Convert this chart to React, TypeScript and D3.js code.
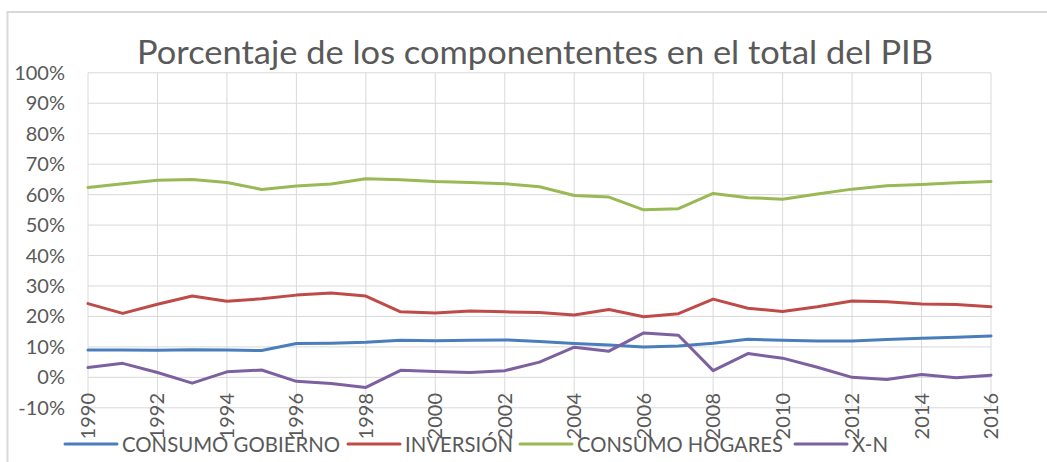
import React from "react";
import * as d3 from "d3";

const years = d3.range(1990, 2017);
const consumoGobierno = [9.0, 9.0, 8.9, 9.1, 9.0, 8.8, 11.1, 11.2, 11.5, 12.2, 12.0, 12.2, 12.3, 11.8, 11.1, 10.6, 10.0, 10.3, 11.2, 12.5, 12.2, 11.9, 11.9, 12.4, 12.8, 13.2, 13.6];
const inversion = [24.2, 21.0, 24.0, 26.7, 25.0, 25.8, 27.0, 27.7, 26.7, 21.5, 21.1, 21.8, 21.5, 21.3, 20.5, 22.3, 19.9, 20.9, 25.7, 22.7, 21.6, 23.2, 25.1, 24.8, 24.1, 23.9, 23.2];
const consumoHogares = [62.3, 63.6, 64.7, 65.0, 64.0, 61.7, 62.8, 63.5, 65.2, 64.9, 64.3, 64.0, 63.6, 62.6, 59.7, 59.2, 55.0, 55.4, 60.4, 59.0, 58.5, 60.2, 61.8, 62.9, 63.3, 63.9, 64.3];
const xn = [3.2, 4.6, 1.6, -1.9, 1.8, 2.4, -1.3, -2.0, -3.3, 2.3, 1.9, 1.6, 2.2, 5.0, 9.9, 8.6, 14.6, 13.8, 2.2, 7.8, 6.3, 3.3, 0.0, -0.7, 0.9, -0.1, 0.7];

const seriesNames = ["CONSUMO GOBIERNO", "INVERSIÓN", "CONSUMO HOGARES", "X-N"];
const seriesColors = ["#4A7EBB", "#BE4B48", "#98B954", "#7D60A0"];
const yTicks = d3.range(-10, 101, 10);
const xTicks = d3.range(1990, 2017, 2);
const title = "Porcentaje de los componententes en el total del PIB";

const FONT = "Lato, 'Open Sans', sans-serif";
const TEXT = "#595959";
const GRID = "#D9D9D9";

export default function App() {
  const x = d3.scaleLinear().domain([1990, 2016]).range([88, 991]);
  const y = d3.scaleLinear().domain([-10, 100]).range([407.8, 72.8]);
  const allSeries = [consumoGobierno, inversion, consumoHogares, xn];
  const line = d3
    .line<number>()
    .x((_, i) => x(years[i]))
    .y((d) => y(d));

  const legendX = [65, 348, 520, 795];
  const legendTextLen = [218, 108, 206, 36];

  return (
    <div style={{ position: "absolute", left: 0, top: 0 }}>
      <svg width={1047} height={462} style={{ display: "block", background: "#fff" }}>
        {/* chart border */}
        <path d="M7.5,470 V12 H1060" fill="none" stroke={GRID} strokeWidth={2} />
        {/* title */}
        <text
          x={535}
          y={64}
          textAnchor="middle"
          fill={TEXT}
          fontFamily={FONT}
          fontWeight={400}
          fontSize={32}
          textLength={796}
          lengthAdjust="spacingAndGlyphs"
        >
          {title}
        </text>
        {/* horizontal gridlines */}
        {yTicks.map((t) => (
          <line key={"h" + t} x1={x(1990)} x2={x(2016)} y1={y(t)} y2={y(t)} stroke={GRID} strokeWidth={1} />
        ))}
        {/* vertical gridlines */}
        {xTicks.map((t) => (
          <line key={"v" + t} x1={x(t)} x2={x(t)} y1={y(100)} y2={y(-10)} stroke={GRID} strokeWidth={1} />
        ))}
        {/* y labels */}
        {yTicks.map((t) => (
          <text
            key={"yl" + t}
            x={65}
            y={y(t)}
            dy="0.35em"
            textAnchor="end"
            fill={TEXT}
            fontFamily={FONT}
            fontSize={20}
          >
            {t + "%"}
          </text>
        ))}
        {/* x labels */}
        {xTicks.map((t) => (
          <text
            key={"xl" + t}
            transform={`translate(${x(t)},${393}) rotate(-90)`}
            dy="0.35em"
            textAnchor="end"
            fill={TEXT}
            fontFamily={FONT}
            fontSize={20}
          >
            {t}
          </text>
        ))}
        {/* lines */}
        {allSeries.map((s, i) => (
          <path
            key={"s" + i}
            d={line(s) || ""}
            fill="none"
            stroke={seriesColors[i]}
            strokeWidth={3}
            strokeLinejoin="round"
            strokeLinecap="round"
          />
        ))}
        {/* legend */}
        {seriesNames.map((n, i) => (
          <g key={"lg" + i}>
            <line
              x1={legendX[i]}
              x2={legendX[i] + 52}
              y1={444}
              y2={444}
              stroke={seriesColors[i]}
              strokeWidth={3}
              strokeLinecap="round"
            />
            <text
              x={legendX[i] + 57}
              y={444}
              dy="0.36em"
              fill={TEXT}
              fontFamily={FONT}
              fontSize={22}
              textLength={legendTextLen[i]}
              lengthAdjust="spacingAndGlyphs"
            >
              {n}
            </text>
          </g>
        ))}
      </svg>
    </div>
  );
}
